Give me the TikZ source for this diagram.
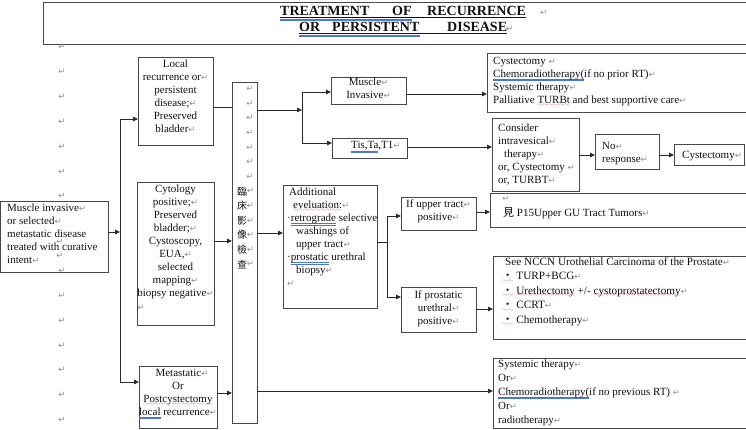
\documentclass[tikz,border=0pt]{standalone}
\usepackage{fontspec}
\setmainfont{Liberation Serif}
\newfontfamily\cjk{Noto Sans CJK TC}
\newfontfamily\markfont{DejaVu Sans}
\usetikzlibrary{arrows.meta}

\definecolor{ink}{HTML}{111111}
\definecolor{frame}{HTML}{474747}
\definecolor{pmark}{HTML}{8E8E8E}
\definecolor{proofred}{HTML}{E03030}
\definecolor{proofblue}{HTML}{4A78D0}

% paragraph mark
\newcommand\pmk{{\markfont\color{pmark}\fontsize{8.5}{8.5}\selectfont ↵}}
% proofing underlines
\font\wavefont=lasy6
\newsavebox\proofbox
\newcommand\sqg[1]{\sbox\proofbox{#1}%
  \rlap{\color{proofred}\lower2.6pt\hbox to \wd\proofbox{\xleaders\hbox{\wavefont\char58}\hfil}}%
  \usebox\proofbox}
\newcommand\dbl[1]{\sbox\proofbox{#1}%
  \rlap{\color{proofblue}\rule[-2.0pt]{\wd\proofbox}{0.35pt}}%
  \rlap{\color{proofblue}\rule[-3.1pt]{\wd\proofbox}{0.35pt}}%
  \usebox\proofbox}
% box given by its corners (x1,y1) (x2,y2)
\newcommand\boxnode[5]{\node[box, minimum width=#4-#2, minimum height=#5-#3] (#1) at ({(#2+#4)/2},{(#3+#5)/2}) {};}

\begin{document}
\begin{tikzpicture}[x=1pt,y=-1pt,
  box/.style={draw=frame, line width=0.8pt, inner sep=0, outer sep=0},
  conn/.style={draw=ink!90, line width=0.8pt},
  arr/.style={conn, -{Triangle[length=5pt,width=4.5pt]}},
  txt/.style={inner sep=0, anchor=north west, align=left, text=ink,
    font=\fontsize{11}{13}\selectfont, execute at begin node=\strut},
  ctxt/.style={txt, anchor=north, align=center},
  ttl/.style={inner sep=0, anchor=base west, text=ink, font=\fontsize{14}{16}\selectfont\bfseries},
  mk/.style={inner sep=0},
]
\useasboundingbox[fill=white] (0,0) rectangle (746,430);

% ---------- heading ----------
\boxnode{title}{43}{2}{766}{44}
\node[ttl] (w1) at (280,16) {TREATMENT};
\node[ttl] (w2) at (392,16) {OF};
\node[ttl] (w3) at (427,16) {RECURRENCE};
\node[mk, anchor=base west] (w4) at (540,16) {\pmk};
\node[ttl] (v1) at (299,32) {OR};
\node[ttl] (v2) at (332,32) {PERSISTENT};
\node[ttl] (v3) at (447,32) {DISEASE};
\node[mk, anchor=base west] (v4) at (506,32) {\pmk};
\draw[ink, line width=0.7pt] ([yshift=-1.6pt]w1.base west) -- ([yshift=-1.6pt]w3.base east);
\draw[ink, line width=0.7pt] ([yshift=-1.6pt]v1.base west) -- ([yshift=-1.6pt]v3.base east);
\draw[proofblue, line width=0.4pt] ([yshift=-2.8pt]w1.base west) -- ([yshift=-2.8pt]w2.base east)
  ([yshift=-3.8pt]w1.base west) -- ([yshift=-3.8pt]w2.base east);
\draw[proofblue, line width=0.4pt] ([yshift=-2.8pt]v1.base west) -- ([yshift=-2.8pt]v2.base east)
  ([yshift=-3.8pt]v1.base west) -- ([yshift=-3.8pt]v2.base east);

% ---------- column of empty paragraphs ----------
\foreach \k in {0,...,6,9,10,...,15}
  \node[mk] (col\k) at (62,{47+24.87*\k}) {\pmk};
\node[mk] (colA) at (60,242) {\pmk};
\node[mk] (colB) at (60,256) {\pmk};

% ---------- boxes ----------
\boxnode{main}{0}{201}{108}{272}
\boxnode{local}{138}{57}{213}{145}
\boxnode{cyto}{137}{182}{214}{325}
\boxnode{meta}{139}{366}{217}{428}
\boxnode{tall}{232}{82}{257}{423}
\boxnode{musinv}{331}{77}{406}{104}
\boxnode{tis}{332}{138}{407}{158}
\boxnode{addl}{283}{185}{377}{308}
\boxnode{ifup}{401}{197}{476}{230}
\boxnode{ifpros}{401}{287}{476}{332}
\boxnode{toprt}{487}{53}{766}{112}
\boxnode{consider}{492}{118}{579}{191}
\boxnode{noresp}{595}{134}{659}{169}
\boxnode{cyst}{674}{144}{744}{165}
\boxnode{p15}{490}{193}{766}{227}
\boxnode{nccn}{493}{256}{766}{339}
\boxnode{sys}{493}{358}{766}{428}

% ---------- texts ----------
\node[txt] (tmain) at (7,204) {Muscle invasive\pmk\\or selected\pmk\\metastatic disease\\treated with curative\\intent\pmk};
\node[ctxt] (tlocal) at (175.5,60) {Local\\recurrence or\pmk\\persistent\\disease;\pmk\\Preserved\\bladder\pmk};
\node[ctxt] (tcyto) at (175.5,185) {Cytology\\positive;\pmk\\Preserved\\bladder;\pmk\\Cystoscopy,\\EUA,\pmk\\selected\\mapping\pmk\\biopsy negative\pmk};
\node[mk] (tcytomk) at (141,308) {\pmk};
\node[ctxt] (tmeta) at (178,369) {\hspace*{8pt}Metastatic\pmk\\Or\\\sqg{Postcystectomy}\\\dbl{local} recurrence\pmk};

% vertical label in the tall box
\foreach \k in {0,...,6}
  \node[mk] (tallmk\k) at (250,{89+14.6*\k}) {\pmk};
\foreach \c [count=\i from 7] in {臨,床,影,像,檢,查} {
  \node[inner sep=0, text=ink, font=\cjk\fontsize{10}{10}\selectfont] (tallch\i) at (242,{89+14.6*\i}) {\c};
  \node[mk] (tallchmk\i) at (250.5,{89+14.6*\i}) {\pmk};
}

\node[ctxt] (tmi) at (368.5,78) {Muscle\pmk\\Invasive\pmk};
\node[txt, anchor=base west] (ttis) at (351,149) {\dbl{Tis,Ta},T1\pmk};
\node[txt] (taddl) at (287,188) {\hspace*{2pt}Additional\\\hspace*{6pt}\sqg{eveluation:}\pmk\\·\dbl{retrograde} selective\\\hspace*{9pt}washings of\\\hspace*{9pt}upper tract\pmk\\·\dbl{prostatic} urethral\\\hspace*{9pt}biopsy\pmk\\\pmk};
\node[ctxt] (tup) at (438.5,200) {If upper tract\pmk\\positive\pmk};
\node[ctxt] (tpros) at (438.5,291) {If prostatic\\urethral\pmk\\positive\pmk};

\node[txt] (ttoprt) at (493,57) {Cystectomy \pmk\\\dbl{Chemoradiotherapy(}if no prior RT)\pmk\\Systemic therapy\pmk\\Palliative \sqg{TURBt} and best supportive care\pmk};
\node[txt] (tcons) at (498,124) {Consider\\intravesical\pmk\\\hspace*{6pt}therapy\pmk\\or, Cystectomy \pmk\\or, TURBT\pmk};
\node[txt] (tnr) at (602,142) {No\pmk\\response\pmk};
\node[txt, anchor=base west] (tcyst) at (682,159) {Cystectomy\pmk};
\node[mk] (tp15mk) at (506,199) {\pmk};
\node[txt, anchor=base west] (tp15) at (503,217) {{\cjk 見} P15Upper GU Tract Tumors\pmk};
\node[txt, font=\fontsize{11.2}{14.5}\selectfont] (tnccn) at (505,257) {See NCCN Urothelial Carcinoma of the Prostate\pmk\\
  \hspace*{-3pt}\sqg{{\cjk ・}}\hspace{3pt}TURP+BCG\pmk\\
  \hspace*{-3pt}\sqg{{\cjk ・}}\hspace{3pt}\sqg{Urethectomy} +/- \sqg{cystoprostatectomy}\pmk\\
  \hspace*{-3pt}\sqg{{\cjk ・}}\hspace{3pt}CCRT\pmk\\
  \hspace*{-3pt}\sqg{{\cjk ・}}\hspace{3pt}Chemotherapy\pmk};
\node[txt, font=\fontsize{11}{13.8}\selectfont] (tsys) at (498,360) {Systemic therapy\pmk\\Or\pmk\\\dbl{Chemoradiotherapy(}if no previous RT) \pmk\\Or\pmk\\radiotherapy\pmk};

% ---------- connectors ----------
\coordinate (j1t) at (120,119);
\coordinate (j1m) at (120,232);
\coordinate (j1b) at (120,382);
\draw[conn] (j1t) -- (j1b);
\draw[arr] (main.east |- j1m) -- (j1m);
\draw[arr] (j1t) -- (local.west |- j1t);
\draw[arr] (j1b) -- (meta.west |- j1b);
\draw[conn] (local.east |- 0,107) -- (tall.west |- 0,107);
\draw[arr] (cyto.east |- 0,241) -- (tall.west |- 0,241);
\draw[arr] (meta.east |- 0,393) -- (tall.west |- 0,393);

\coordinate (j2t) at (302,92);
\coordinate (j2m) at (302,110);
\coordinate (j2b) at (302,143);
\draw[conn] (j2t) -- (j2b);
\draw[arr] (tall.east |- j2m) -- (j2m);
\draw[arr] (j2t) -- (musinv.west |- j2t);
\draw[arr] (j2b) -- (tis.west |- j2b);
\draw[arr] (musinv.east |- 0,94) -- (toprt.west |- 0,94);
\draw[arr] (tis.east |- 0,147) -- (consider.west |- 0,147);
\draw[arr] (consider.east |- 0,155) -- (noresp.west |- 0,155);
\draw[arr] (noresp.east |- 0,155) -- (cyst.west |- 0,155);

\draw[arr] (tall.east |- 0,233) -- (addl.west |- 0,233);
\coordinate (j3t) at (387,216);
\coordinate (j3m) at (387,242);
\coordinate (j3b) at (387,297);
\draw[conn] (addl.east |- j3m) -- (j3m);
\draw[conn] (j3t) -- (j3b);
\draw[arr] (j3t) -- (ifup.west |- j3t);
\draw[arr] (j3b) -- (ifpros.west |- j3b);
\draw[arr] (ifup.east |- 0,212) -- (p15.west |- 0,212);
\draw[arr] (ifpros.east |- 0,309) -- (nccn.west |- 0,309);
\draw[arr] (tall.east |- 0,391) -- (sys.west |- 0,391);
\end{tikzpicture}
\end{document}
